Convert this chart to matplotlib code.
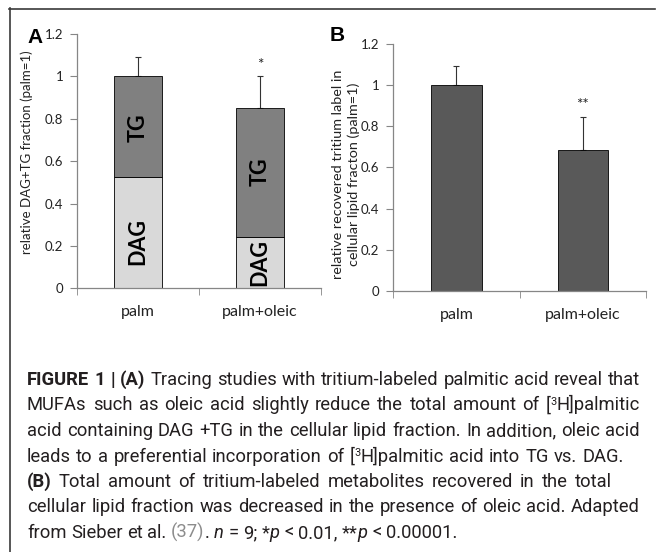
import matplotlib
matplotlib.use("Agg")
import matplotlib.pyplot as plt
from matplotlib.lines import Line2D
from matplotlib.ticker import FuncFormatter, FixedLocator
from matplotlib import font_manager
import numpy as np

# ---- data ----
categories = ['palm', 'palm+oleic']

# panel A: stacked DAG + TG
dag = [0.523, 0.244]
tg = [0.477, 0.608]
err_a = [0.093, 0.150]
label_y_dag = [0.22, 0.12]
label_y_tg = [0.76, 0.55]
sig_a = ['', '*']

# panel B: total recovered label
total_b = [1.0, 0.683]
err_b = [0.093, 0.163]
sig_b = ['', '**']

W, H = 657, 552
fig = plt.figure(figsize=(W / 100, H / 100), dpi=100)
chart_font = ['Lato', 'DejaVu Sans']
axis_grey = '#868686'
txt = '#222222'


def style_axes(ax):
    for s in ['top', 'right']:
        ax.spines[s].set_visible(False)
    for s in ['left', 'bottom']:
        ax.spines[s].set_color(axis_grey)
        ax.spines[s].set_linewidth(0.9)
    ax.set_xlim(-0.5, 1.5)
    ax.set_ylim(0, 1.2)
    ax.set_yticks(np.arange(0, 1.21, 0.2))
    ax.yaxis.set_major_formatter(FuncFormatter(lambda v, p: '%g' % round(v, 1)))
    ax.set_xticks(range(len(categories)))
    ax.set_xticklabels(categories, fontsize=11.5, family=chart_font, color=txt)
    ax.xaxis.set_minor_locator(FixedLocator([-0.5, 0.5, 1.5]))
    ax.tick_params(axis='x', which='major', length=0, pad=12)
    ax.tick_params(axis='x', which='minor', length=5, color=axis_grey, direction='out')
    ax.tick_params(axis='y', length=5, color=axis_grey, direction='out', pad=5,
                   labelsize=9.5, labelcolor=txt)
    for lab in ax.get_yticklabels():
        lab.set_family(chart_font)


x = np.arange(len(categories))

# ---- panel A ----
axA = fig.add_axes([77 / W, 1 - 288.3 / H, 244 / W, 254.3 / H])
style_axes(axA)
axA.bar(x, dag, width=0.40, color='#d9d9d9', edgecolor='black', linewidth=0.6, zorder=2)
axA.bar(x, tg, width=0.40, bottom=dag, color='#808080', edgecolor='black', linewidth=0.6, zorder=2)
tot_a = np.array(dag) + np.array(tg)
axA.errorbar(x, tot_a, yerr=[np.zeros(len(x)), err_a], fmt='none', ecolor='#333333',
             elinewidth=0.8, capsize=2.5, capthick=0.8, zorder=1)
for i in range(len(x)):
    axA.text(x[i], label_y_dag[i], 'DAG', rotation=90, ha='center', va='center',
             fontsize=15.5, fontweight='bold', family=chart_font, color='black')
    axA.text(x[i], label_y_tg[i], 'TG', rotation=90, ha='center', va='center',
             fontsize=15.5, fontweight='bold', family=chart_font, color='black')
    if sig_a[i]:
        axA.text(x[i], tot_a[i] + err_a[i] + 0.02, sig_a[i], ha='center', va='bottom',
                 fontsize=11, family=chart_font, color=txt)
axA.text(-0.205, 0.534, 'relative DAG+TG fraction (palm=1)', transform=axA.transAxes,
         rotation=90, ha='center', va='center', fontsize=9.5, family=chart_font, color=txt)

# ---- panel B ----
axB = fig.add_axes([393.3 / W, 1 - 291 / H, 252.7 / W, 247.3 / H])
style_axes(axB)
axB.bar(x, total_b, width=0.40, color='#595959', edgecolor='black', linewidth=0.6, zorder=2)
axB.errorbar(x, total_b, yerr=[np.zeros(len(x)), err_b], fmt='none', ecolor='#333333',
             elinewidth=0.8, capsize=2.5, capthick=0.8, zorder=1)
for i in range(len(x)):
    if sig_b[i]:
        axB.text(x[i], total_b[i] + err_b[i] + 0.025, sig_b[i], ha='center', va='bottom',
                 fontsize=11, family=chart_font, color=txt)
axB.text(-0.187, 0.47, 'relative recovered tritium label in\ncellular lipid fracton (palm=1)',
         transform=axB.transAxes, rotation=90, ha='center', va='center', fontsize=10.4,
         family=chart_font, color=txt, linespacing=1.3)

# panel letters
fig.text(35 / W, 1 - 37.5 / H, 'A', ha='center', va='center', fontsize=15,
         fontweight='bold', family='Liberation Sans', color='black')
fig.text(337.5 / W, 1 - 35.5 / H, 'B', ha='center', va='center', fontsize=15,
         fontweight='bold', family='Liberation Sans', color='black')

# frame lines
fig.add_artist(Line2D([9.5 / W, 9.5 / W], [1 - 8 / H, 0], color='#3a3a3a', lw=1.2))
fig.add_artist(Line2D([9 / W, 655 / W], [1 - 8.5 / H, 1 - 8.5 / H], color='#3a3a3a', lw=1.2))

# ---- caption ----
cap_lines = [
    [('FIGURE 1 | (A)', 'b'), (' Tracing studies with tritium-labeled palmitic acid reveal that', 'n')],
    [('MUFAs such as oleic acid slightly reduce the total amount of [', 'n'), ('3', 's'),
     ('H]palmitic', 'n')],
    [('acid containing DAG +TG in the cellular lipid fraction. In addition, oleic acid', 'n')],
    [('leads to a preferential incorporation of [', 'n'), ('3', 's'),
     ('H]palmitic acid into TG vs. DAG.', 'n')],
    [('(B)', 'b'), (' Total amount of tritium-labeled metabolites recovered in the total', 'n')],
    [('cellular lipid fraction was decreased in the presence of oleic acid. Adapted', 'n')],
    [('from Sieber et al. ', 'n'), ('(37)', 'g'), ('. ', 'n'), ('n', 'i'), (' = 9; *', 'n'),
     ('p', 'i'), (' < 0.01, **', 'n'), ('p', 'i'), (' < 0.00001.', 'n')],
]
line_ends = [640, 640, 640, 624, 612, 640, None]
cap_color = '#231f20'
renderer = fig.canvas.get_renderer()

try:
    font_manager.findfont(font_manager.FontProperties(family='Liberation Sans Narrow'),
                          fallback_to_default=False)
    cap_font = 'Liberation Sans Narrow'
except ValueError:
    cap_font = 'Roboto'


def run_kw(style, size):
    kw = dict(family=cap_font, fontsize=size, color=cap_color)
    if style == 'b':
        kw['weight'] = 'bold'
    elif style == 'i':
        kw['style'] = 'italic'
    elif style == 'g':
        kw['color'] = '#8c8c8c'
    elif style == 's':
        kw['fontsize'] = size * 0.6
    return kw


def run_width(text, kw):
    t1 = fig.text(0, 0, '|' + text + '|', **kw)
    t2 = fig.text(0, 0, '||', **kw)
    w = t1.get_window_extent(renderer).width - t2.get_window_extent(renderer).width
    t1.remove()
    t2.remove()
    return w


def line_width(runs, size):
    return sum(run_width(t, run_kw(s, size)) for t, s in runs)


# font size chosen so the natural lines just fit the text column
size = 10 * 606 / max(line_width(cap_lines[k], 10) for k in (0, 1, 2, 5))

for k, runs in enumerate(cap_lines):
    x0 = 27.0
    yb = 385 + 25.5 * k
    n_sp = sum(t.count(' ') for t, s in runs)
    extra = 0.0
    if line_ends[k] is not None and n_sp:
        extra = max(0.0, (line_ends[k] - x0 - line_width(runs, size)) / n_sp)
    xp = x0
    for t, s in runs:
        kw = run_kw(s, size)
        dy = size * 0.45 if s == 's' else 0
        sp = run_width(' ', kw)
        for j, part in enumerate(t.split(' ')):
            if j > 0:
                xp += sp + extra
            if part:
                fig.text(xp / W, 1 - (yb - dy) / H, part, ha='left', va='baseline', **kw)
                xp += run_width(part, kw)

fig.savefig('out.png', dpi=100)
